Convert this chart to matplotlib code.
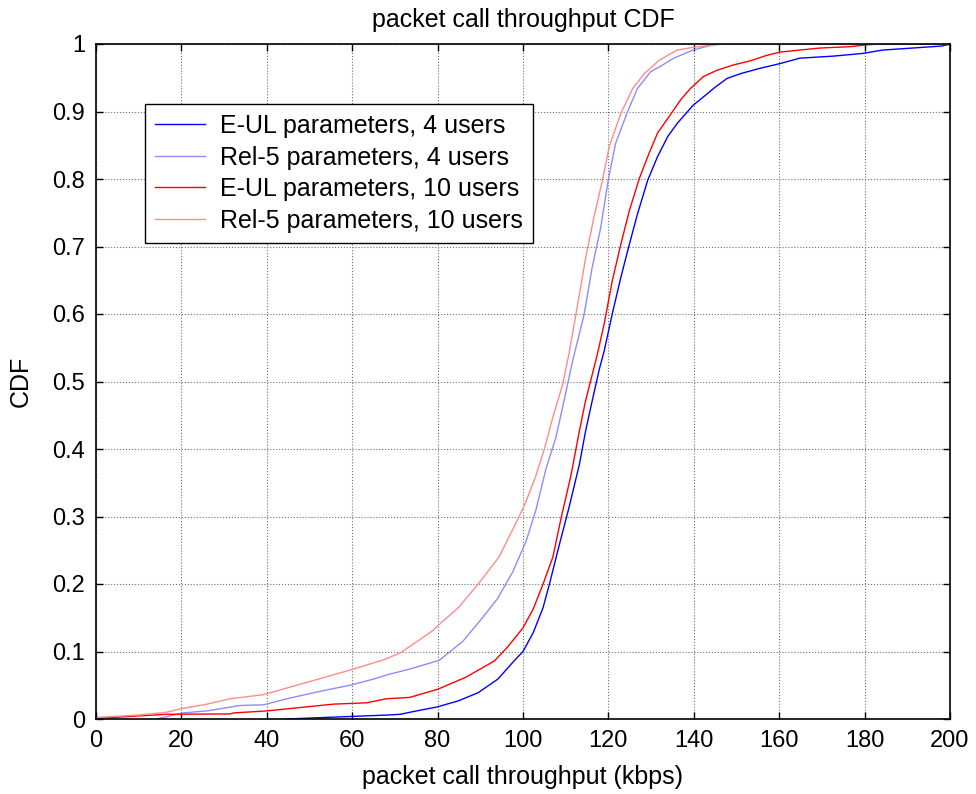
"""Packet call throughput CDF - E-UL vs Rel-5 parameters, 4 and 10 users."""

import matplotlib
matplotlib.use("Agg")
import matplotlib.pyplot as plt

plt.rcParams['font.family'] = ['Liberation Sans', 'DejaVu Sans']

# Values (throughput in kbps, CDF level)
eul4_x = [44.5, 68.7, 71.3, 75.1, 80.0, 84.9, 89.5, 94.1, 97.9, 100.0, 102.4,
          104.7, 106.2, 108.5, 110.8, 113.2, 114.7, 116.3, 117.9, 119.0, 120.9,
          122.9, 124.9, 126.8, 129.2, 131.5, 133.9, 136.2, 139.8, 143.1, 145.0,
          147.8, 150.9, 155.5, 160.2, 164.8, 172.6, 179.5, 184.2, 191.2, 198.1, 200.0]
eul4_y = [0.0, 0.006, 0.007, 0.012, 0.018, 0.027, 0.039, 0.059, 0.086, 0.1, 0.128,
          0.165, 0.2, 0.258, 0.314, 0.377, 0.428, 0.474, 0.519, 0.545, 0.6,
          0.654, 0.703, 0.748, 0.798, 0.833, 0.863, 0.883, 0.909, 0.926, 0.936,
          0.949, 0.956, 0.964, 0.971, 0.979, 0.982, 0.986, 0.991, 0.994, 0.997, 1.0]

rel4_x = [14.2, 20.4, 26.0, 33.7, 39.2, 45.4, 53.2, 59.5, 64.9, 68.5, 73.5,
          80.4, 85.9, 90.5, 94.0, 97.6, 100.7, 103.0, 105.4, 107.7, 109.7,
          111.6, 114.3, 116.2, 118.2, 120.0, 121.7, 124.5, 126.8, 129.9,
          132.2, 135.3, 139.8, 144.6, 146.5, 200.0]
rel4_y = [0.0, 0.009, 0.012, 0.02, 0.021, 0.031, 0.042, 0.05, 0.059, 0.066, 0.074,
          0.087, 0.115, 0.15, 0.178, 0.218, 0.263, 0.309, 0.371, 0.417, 0.474,
          0.53, 0.599, 0.669, 0.728, 0.8, 0.853, 0.9, 0.934, 0.959,
          0.967, 0.979, 0.991, 0.999, 1.0, 1.0]

eul10_x = [0.0, 3.3, 16.6, 31.4, 32.2, 40.0, 44.7, 55.6, 63.4, 68.0, 73.5,
           80.0, 86.5, 93.3, 96.3, 100.0, 102.4, 104.7, 107.0, 109.0, 111.2,
           113.0, 114.6, 116.2, 117.4, 119.0, 120.9, 122.9, 124.9, 127.2, 129.2,
           131.5, 134.7, 137.0, 139.2, 142.3, 145.4, 149.3, 153.2, 157.0, 160.2,
           164.8, 169.5, 176.4, 181.0, 183.0, 200.0]
eul10_y = [0.001, 0.002, 0.007, 0.0075, 0.009, 0.012, 0.015, 0.022, 0.024, 0.03, 0.032,
           0.044, 0.0615, 0.086, 0.106, 0.135, 0.163, 0.2, 0.24, 0.3, 0.36,
           0.42, 0.47, 0.51, 0.54, 0.585, 0.649, 0.703, 0.753, 0.8, 0.833,
           0.868, 0.897, 0.918, 0.934, 0.952, 0.961, 0.969, 0.975, 0.983, 0.988,
           0.991, 0.994, 0.996, 0.999, 1.0, 1.0]

rel10_x = [0.5, 10.3, 16.6, 19.7, 26.0, 31.4, 39.2, 47.0, 54.8, 60.3, 67.5,
           71.3, 78.9, 80.0, 84.9, 89.5, 94.4, 99.1, 100.7, 103.0, 105.0, 106.9,
           109.3, 110.8, 112.4, 114.7, 116.6, 118.6, 120.2, 122.9, 125.7,
           128.4, 131.9, 136.1, 139.8, 145.4, 147.5, 200.0]
rel10_y = [0.0025, 0.006, 0.01, 0.015, 0.022, 0.03, 0.036, 0.05, 0.064, 0.074, 0.088,
           0.098, 0.131, 0.138, 0.165, 0.2, 0.24, 0.3, 0.322, 0.36, 0.4, 0.445,
           0.496, 0.542, 0.6, 0.684, 0.743, 0.798, 0.848, 0.897, 0.934,
           0.956, 0.976, 0.991, 0.995, 0.999, 1.0, 1.0]

x_ticks = [0, 20, 40, 60, 80, 100, 120, 140, 160, 180, 200]
y_ticks = [0, 0.1, 0.2, 0.3, 0.4, 0.5, 0.6, 0.7, 0.8, 0.9, 1]
y_tick_labels = ['0', '0.1', '0.2', '0.3', '0.4', '0.5', '0.6', '0.7', '0.8', '0.9', '1']

fig = plt.figure(figsize=(9.76, 7.94), dpi=100)
ax = fig.add_axes([96 / 976, 75 / 794, 854 / 976, 675 / 794])

ax.plot(eul4_x, eul4_y, color='#0000ff', lw=1.0, label='E-UL parameters, 4 users')
ax.plot(rel4_x, rel4_y, color='#8c8cff', lw=1.0, label='Rel-5 parameters, 4 users')
ax.plot(eul10_x, eul10_y, color='#ff0000', lw=1.0, label='E-UL parameters, 10 users')
ax.plot(rel10_x, rel10_y, color='#ff8c8c', lw=1.0, label='Rel-5 parameters, 10 users')

ax.set_xlim(0, 200)
ax.set_ylim(0, 1)
ax.set_xticks(x_ticks)
ax.set_yticks(y_ticks)
ax.set_yticklabels(y_tick_labels)
ax.tick_params(direction='in', top=True, right=True, length=5, width=1,
               labelsize=17, pad=8)
ax.grid(True, color='#707070', linestyle=':', linewidth=0.8)
for spine in ax.spines.values():
    spine.set_linewidth(1.2)

ax.set_title('packet call throughput CDF', fontsize=18, pad=12)
ax.set_xlabel('packet call throughput (kbps)', fontsize=18, labelpad=9)
ax.set_ylabel('CDF', fontsize=18, labelpad=14)

leg = ax.legend(loc='upper left', bbox_to_anchor=(0.057, 0.911), fontsize=18,
                frameon=True, fancybox=False, framealpha=1, edgecolor='black',
                handlelength=2.0, handletextpad=0.6, labelspacing=0.3,
                borderpad=0.4, borderaxespad=0)
leg.get_frame().set_linewidth(1.0)

plt.savefig('out.png', dpi=100)
plt.close()
